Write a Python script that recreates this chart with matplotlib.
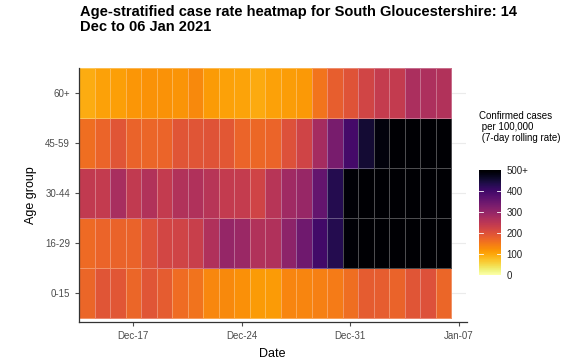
import numpy as np
import pandas as pd
import matplotlib
matplotlib.use("Agg")
import matplotlib.pyplot as plt
import matplotlib.dates as mdates

plt.rcParams['font.family'] = ['Liberation Sans', 'DejaVu Sans']

# dates: 14 Dec 2020 .. 06 Jan 2021
dates = pd.date_range("2020-12-14", "2021-01-06", freq="D")
age_groups = ["0-15", "16-29", "30-44", "45-59", "60+"]

# 7-day rolling case rate per 100,000
rate_0_15 = [170, 195, 192, 170, 195, 185, 164, 156, 132, 130, 122, 110,
             111, 133, 134, 139, 146, 162, 185, 182, 175, 195, 200, 170]
rate_16_29 = [165, 172, 175, 175, 200, 218, 222, 232, 265, 298, 292, 262,
              265, 308, 344, 400, 433, 495, 560, 610, 640, 650, 655, 660]
rate_30_44 = [242, 240, 275, 242, 262, 240, 262, 265, 255, 240, 238, 222,
              255, 285, 295, 358, 433, 495, 570, 620, 650, 660, 665, 670]
rate_45_59 = [161, 172, 194, 175, 170, 172, 195, 195, 196, 190, 172, 168,
              172, 200, 222, 278, 333, 395, 455, 490, 560, 600, 620, 630]
rate_60 = [92, 104, 107, 116, 120, 120, 118, 130, 110, 104, 102, 95,
           105, 108, 112, 154, 180, 197, 220, 238, 240, 270, 268, 262]

z = np.array([rate_0_15, rate_16_29, rate_30_44, rate_45_59, rate_60])

W, H = 585, 362
fig = plt.figure(figsize=(W / 100, H / 100), dpi=100)
ax = fig.add_axes([79 / W, (H - 322) / H, (466.5 - 79) / W, (322 - 68) / H])

xnum = mdates.date2num(dates)
xedges = np.append(xnum - 0.5, xnum[-1] + 0.5)
yedges = np.arange(len(age_groups) + 1) - 0.5

# faint grid behind the tiles
for i in range(len(age_groups)):
    ax.axhline(i, color="#ebebeb", lw=0.8, zorder=0)

mesh = ax.pcolormesh(xedges, yedges, z, cmap="inferno_r", vmin=0, vmax=500,
                     edgecolors=(1, 1, 1, 0.3), linewidth=0.6, zorder=1)

ax.set_xlim(xnum[0] - 0.5, xnum[0] + 24.5)
ax.set_ylim(-0.58, 4.5)

ticks = [mdates.date2num(pd.Timestamp(d)) for d in
         ["2020-12-17", "2020-12-24", "2020-12-31", "2021-01-07"]]
ax.set_xticks(ticks)
ax.xaxis.set_major_formatter(mdates.DateFormatter("%b-%d"))
ax.set_yticks(range(len(age_groups)))
ax.set_yticklabels(age_groups)
ax.tick_params(labelsize=7, colors="#4d4d4d", length=3, width=0.8,
               labelcolor="#4d4d4d")
for s in ["top", "right"]:
    ax.spines[s].set_visible(False)
for s in ["left", "bottom"]:
    ax.spines[s].set_color("#333333")
    ax.spines[s].set_linewidth(0.9)

ax.set_xlabel("Date", fontsize=9, labelpad=5)
ax.set_ylabel("Age group", fontsize=9, labelpad=6)

fig.text(80 / W, 1 - 5 / H,
         "Age-stratified case rate heatmap for South Gloucestershire: 14\nDec to 06 Jan 2021",
         fontsize=10.5, fontweight="bold", va="top", ha="left", linespacing=1.05)

# legend
fig.text(479 / W, 1 - 111 / H,
         "Confirmed cases\n per 100,000\n (7-day rolling rate)",
         fontsize=7, va="top", ha="left", linespacing=1.15)
cax = fig.add_axes([479 / W, (H - 277) / H, 22 / W, (277 - 168) / H])
cb = fig.colorbar(mesh, cax=cax)
cb.outline.set_visible(False)
cb.set_ticks([0, 100, 200, 300, 400, 500])
cb.set_ticklabels(["0", "100", "200", "300", "400", "500+"])
cax.set_ylim(-12, 512)
cax.tick_params(labelsize=7, length=0, pad=4, colors="#222222")
for v in [100, 200, 300, 400]:
    cax.plot([0, 0.2], [v, v], color="white", lw=0.6, transform=cax.get_yaxis_transform())
    cax.plot([0.8, 1], [v, v], color="white", lw=0.6, transform=cax.get_yaxis_transform())

fig.savefig("out.png", dpi=100)
